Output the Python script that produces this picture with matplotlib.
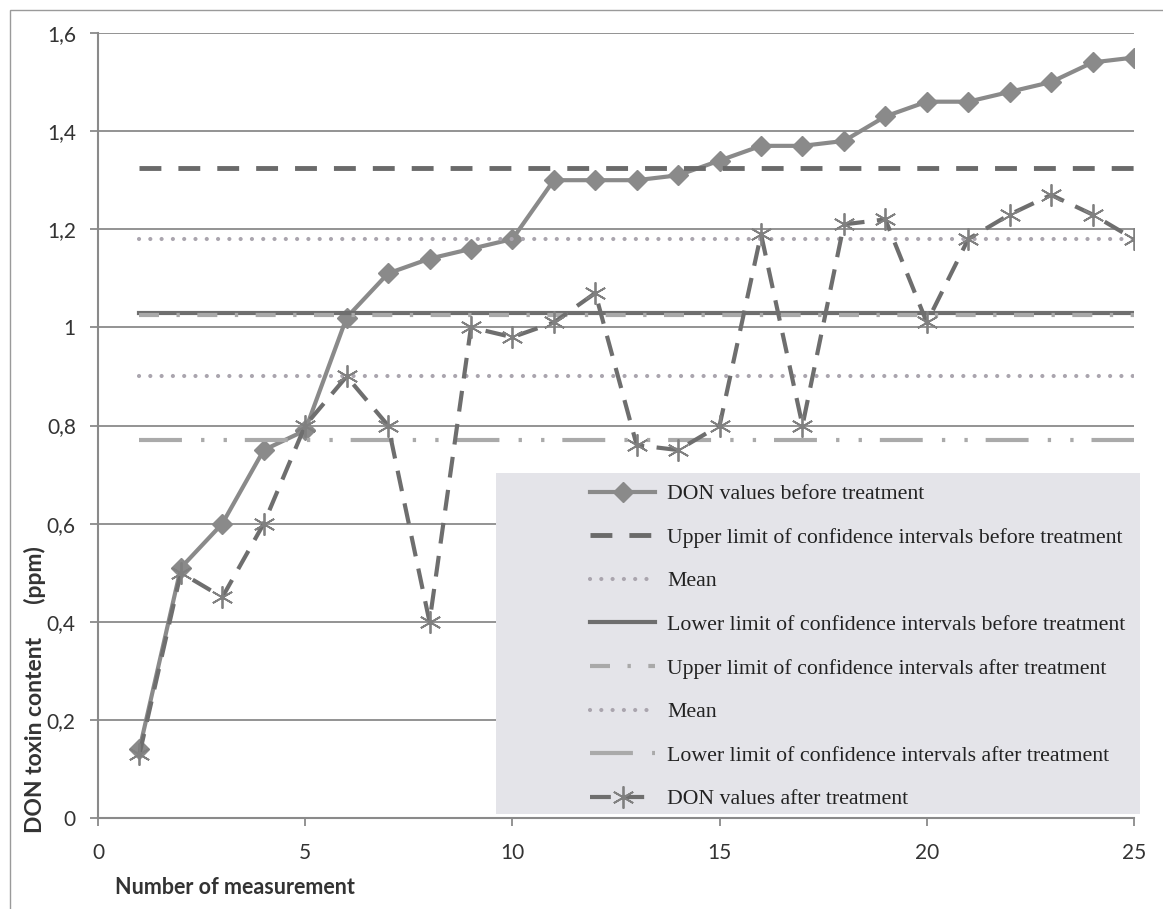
"""DON toxin content before and after treatment, with confidence limits."""
import matplotlib
matplotlib.use("Agg")
import matplotlib.pyplot as plt
from matplotlib.patches import Rectangle

measurement = list(range(1, 26))
don_before = [0.14, 0.51, 0.60, 0.75, 0.79, 1.02, 1.11, 1.14, 1.16, 1.18,
              1.30, 1.30, 1.30, 1.31, 1.34, 1.37, 1.37, 1.38, 1.43, 1.46,
              1.46, 1.48, 1.50, 1.54, 1.55]
don_after = [0.13, 0.50, 0.45, 0.60, 0.80, 0.90, 0.80, 0.40, 1.00, 0.98,
             1.01, 1.07, 0.76, 0.75, 0.80, 1.19, 0.80, 1.21, 1.22, 1.01,
             1.18, 1.23, 1.27, 1.23, 1.18]
upper_before = 1.325
mean_before = 1.18
lower_before = 1.03
upper_after = 1.025
mean_after = 0.90
lower_after = 0.77

labels = [
    "DON values before treatment",
    "Upper limit of confidence intervals before treatment",
    "Mean",
    "Lower limit of confidence intervals before treatment",
    "Upper limit of confidence intervals after treatment",
    "Mean",
    "Lower limit of confidence intervals after treatment",
    "DON values after treatment",
]
y_ticks = [0, 0.2, 0.4, 0.6, 0.8, 1.0, 1.2, 1.4, 1.6]
y_ticklabels = ["0", "0,2", "0,4", "0,6", "0,8", "1", "1,2", "1,4", "1,6"]
x_ticks = [0, 5, 10, 15, 20, 25]

W, H = 1163, 909
fig = plt.figure(figsize=(W / 100, H / 100), dpi=100)
ax = fig.add_axes([98 / W, 1 - 818 / H, (1134 - 98) / W, (818 - 33) / H])

n = len(measurement)
handles = []
handles += ax.plot(measurement, don_before, color="#8a8a8a", lw=3, marker="D",
                   ms=10, zorder=3)
handles += ax.plot(measurement, [upper_before] * n, color="#6a6a6a", lw=3.5,
                   ls=(0, (4.5, 3.5)), zorder=3)
handles += ax.plot(measurement, [mean_before] * n, color="#aaa5ae", lw=3,
                   ls=(0, (0.01, 2.7)), dash_capstyle="round", zorder=3)
handles += ax.plot(measurement, [lower_before] * n, color="#6e6e6e", lw=3,
                   zorder=3)
handles += ax.plot(measurement, [upper_after] * n, color="#a9a9a9", lw=3,
                   ls=(0, (4.8, 4.2, 0.8, 4.2)), zorder=3)
handles += ax.plot(measurement, [mean_after] * n, color="#aaa5ae", lw=3,
                   ls=(0, (0.01, 2.7)), dash_capstyle="round", zorder=3)
handles += ax.plot(measurement, [lower_after] * n, color="#aaaaaa", lw=3,
                   ls=(0, (10.3, 4.6, 0.8, 4.6, 0.8, 4.3)), zorder=3)
handles += ax.plot(measurement, don_after, color="#6e6e6e", lw=3,
                   ls=(0, (5, 3)), marker=(6, 2, 0), ms=16, mec="#808080",
                   mew=1.3, zorder=4)

ax.set_xlim(0, 25)
ax.set_ylim(0, 1.6)
ax.set_yticks(y_ticks)
ax.set_yticklabels(y_ticklabels)
ax.set_xticks(x_ticks)
ax.yaxis.grid(True, color="#8a8a8a", lw=1.3)
ax.set_axisbelow(True)
for side in ("top", "right"):
    ax.spines[side].set_visible(False)
for side in ("left", "bottom"):
    ax.spines[side].set_color("#8a8a8a")
    ax.spines[side].set_linewidth(1.5)
ax.tick_params(axis="both", length=6, width=1.3, color="#8a8a8a",
               labelsize=15, labelcolor="#333333")
ax.tick_params(axis="y", pad=10)
ax.tick_params(axis="x", pad=12)
for lab in ax.get_xticklabels() + ax.get_yticklabels():
    lab.set_fontfamily("Lato")

# legend panel
ax.add_patch(Rectangle((496 / W, 1 - 814 / H), (1140 - 496) / W, (814 - 473) / H,
                       transform=fig.transFigure, facecolor="#e4e4e9",
                       edgecolor="none", zorder=2.5, clip_on=False))
leg = ax.legend(handles, labels, loc="upper left",
                bbox_to_anchor=(590 / W, 1 - 484 / H),
                bbox_transform=fig.transFigure, frameon=False, borderpad=0,
                borderaxespad=0, handlelength=3.0, handletextpad=0.55,
                labelspacing=1.07,
                prop={"family": "Liberation Serif", "size": 15.7})
for txt in leg.get_texts():
    txt.set_color("#222222")

fig.text(35 / W, 1 - 690 / H, "DON toxin content      (ppm)", rotation=90,
         ha="center", va="center", family="Lato", weight="bold", size=16.5,
         color="#333333")
fig.text(235 / W, 1 - 888 / H, "Number of measurement", ha="center",
         va="center", family="Lato", weight="bold", size=15.5, color="#333333")

# outer chart border
fig.add_artist(Rectangle((10 / W, -0.05), 1.1, 1 - 10 / H + 0.05,
                         transform=fig.transFigure, fill=False,
                         edgecolor="#9a9a9a", lw=1))

fig.savefig("out.png", dpi=100)
